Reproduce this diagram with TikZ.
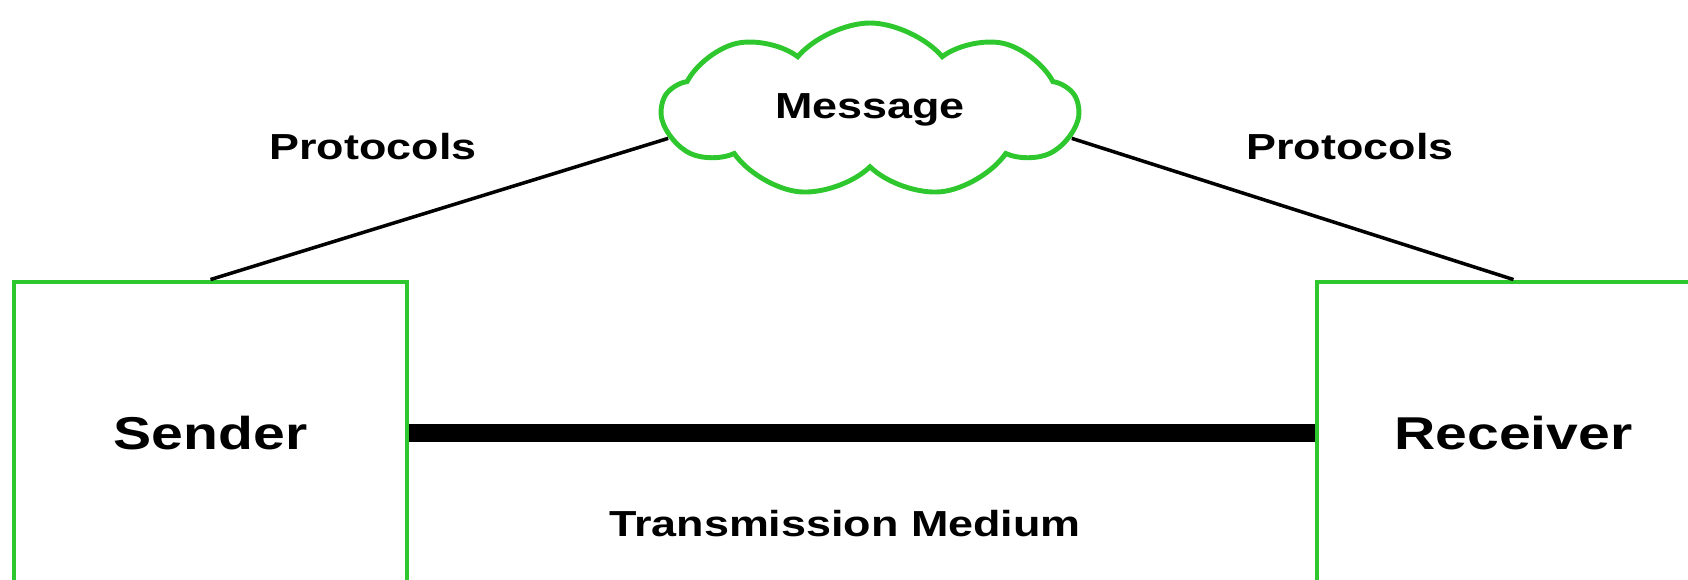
\documentclass[tikz,border=0pt]{standalone}
\usepackage{fontspec}
\setmainfont{Liberation Sans}[FakeStretch=1.24]
\usepackage{tikz}
\usetikzlibrary{shapes.symbols}

\definecolor{boxgreen}{RGB}{46,200,46}

\begin{document}
\begin{tikzpicture}[
  endbox/.style={draw=boxgreen, line width=1.4pt, minimum width=3.93cm, minimum height=3.02cm,
    font=\fontsize{13.1}{15}\selectfont\bfseries},
  msgcloud/.style={cloud, draw=boxgreen, line width=1.4pt, cloud puffs=9, cloud puff arc=100,
    aspect=2.4, minimum width=4.15cm, minimum height=1.74cm, inner sep=0pt,
    font=\fontsize{10.3}{12}\selectfont\bfseries},
  lbl/.style={font=\fontsize{10.3}{12}\selectfont\bfseries}]
  \useasboundingbox (0,0) rectangle (16.88,5.79);
  \node [endbox] (sender) at (2.105,1.46) {Sender};
  \node [endbox] (receiver) at (15.135,1.46) {Receiver};
  \node [msgcloud] (msg) at (8.70,4.69) {Message};
  \node [lbl] (protoleft) at (3.73,4.32) {Protocols};
  \node [lbl] (protoright) at (13.50,4.32) {Protocols};
  \node [lbl] (medium) at (8.45,0.55) {Transmission Medium};
  \draw [line width=1pt] (sender.north) -- (msg.188);
  \draw [line width=1pt] (msg.352) -- (receiver.north);
  \draw [line width=5.1pt] (sender.east) -- (receiver.west);
\end{tikzpicture}
\end{document}
